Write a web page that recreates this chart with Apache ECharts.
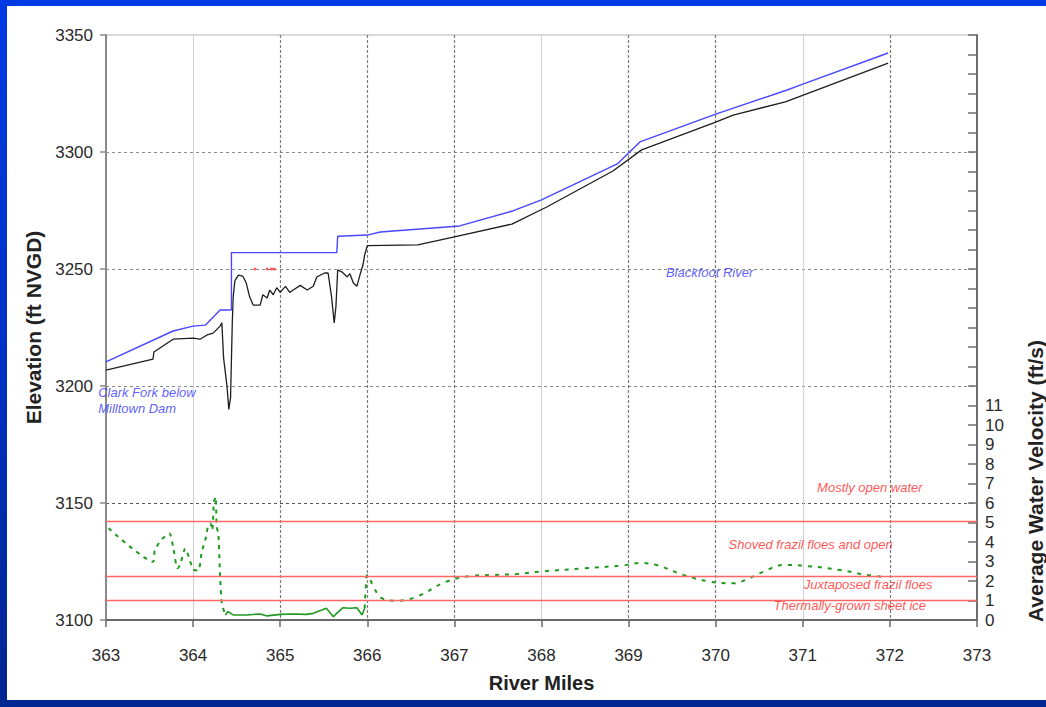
<!DOCTYPE html>
<html>
<head>
<meta charset="utf-8">
<script src="https://cdn.jsdelivr.net/npm/echarts@6/dist/echarts.min.js"></script>
<style>
  html, body { margin: 0; padding: 0; width: 1046px; height: 707px; overflow: hidden; }
  body { background: linear-gradient(180deg, #003ae4 0%, #0031c4 50%, #00268f 100%); position: relative; }
  #panel { position: absolute; left: 7px; top: 6px; width: 1039px; height: 694px; background: #ffffff; }
  #chart { position: absolute; left: 0; top: 0; width: 1046px; height: 707px; }
</style>
</head>
<body>
<div id="panel"></div>
<div id="chart"></div>
<script>
// River miles (x) and elevations / velocities (y)
const mileTicks = [363, 364, 365, 366, 367, 368, 369, 370, 371, 372, 373];
const elevTicks = [3100, 3150, 3200, 3250, 3300, 3350];

// Upper profile (blue)
const blueMiles = [363.00, 363.77, 364.00, 364.14, 364.31, 364.44, 364.44, 364.47, 365.65, 365.66, 366.00, 366.15, 367.06, 367.67, 368.00, 368.87, 369.13, 370.00, 370.82, 371.00, 371.98];
const blueElev  = [3210.3, 3223.5, 3225.6, 3226.0, 3232.5, 3232.5, 3257.0, 3257.0, 3257.0, 3264.0, 3264.5, 3265.8, 3268.4, 3274.8, 3279.5, 3294.9, 3304.3, 3316.2, 3326.5, 3329.0, 3342.3];

// Lower profile (black)
const blackMiles = [363.00, 363.54, 363.55, 363.77, 364.00, 364.08, 364.16, 364.23, 364.31, 364.33, 364.35, 364.39, 364.41, 364.43, 364.45, 364.46, 364.48, 364.52, 364.57, 364.61, 364.65, 364.69, 364.77, 364.80, 364.85, 364.88, 364.92, 364.96, 365.00, 365.06, 365.11, 365.15, 365.23, 365.31, 365.38, 365.42, 365.51, 365.55, 365.59, 365.62, 365.64, 365.66, 365.71, 365.77, 365.80, 365.84, 365.88, 365.92, 365.95, 365.97, 366.00, 366.58, 367.00, 367.66, 368.06, 368.82, 369.15, 370.00, 370.20, 370.80, 371.98];
const blackElev  = [3206.8, 3211.5, 3214.5, 3220.0, 3220.5, 3220.0, 3221.8, 3222.6, 3225.6, 3227.0, 3212.0, 3199.6, 3190.0, 3195.0, 3227.0, 3238.0, 3245.0, 3247.4, 3247.0, 3244.0, 3238.0, 3234.6, 3234.6, 3239.0, 3237.6, 3241.0, 3239.0, 3242.0, 3240.0, 3242.6, 3240.0, 3241.0, 3243.0, 3241.0, 3242.6, 3246.6, 3248.3, 3248.3, 3238.0, 3227.0, 3234.0, 3249.6, 3248.7, 3246.6, 3248.0, 3244.0, 3242.6, 3248.0, 3251.7, 3256.0, 3260.0, 3260.3, 3263.7, 3269.2, 3276.5, 3291.9, 3300.9, 3312.8, 3315.8, 3321.4, 3338.0];

// Small red marks near 3250
const redMarkMiles = [364.71, 364.85, 364.90, 364.93];
const redMarkElev  = [3250, 3250, 3250, 3250];

// Average water velocity (ft/s), right axis
const velMiles = [363.03, 363.54, 363.56, 363.64, 363.73, 363.77, 363.82, 363.85, 363.91, 363.95, 364.00, 364.06, 364.10, 364.15, 364.17, 364.20, 364.22, 364.24, 364.26, 364.27, 364.29, 364.31, 364.33, 364.37,
                  364.40, 364.46, 364.62, 364.77, 364.85, 365.00, 365.15, 365.30, 365.38, 365.53, 365.61, 365.67, 365.72, 365.80, 365.88, 365.94, 365.97,
                  365.99, 366.00, 366.07, 366.17, 366.34, 366.57, 366.91, 367.22, 367.45, 367.72, 367.98, 368.48, 368.94, 369.13, 369.32, 369.63, 369.93, 370.20, 370.39, 370.55, 370.78, 371.04, 371.43, 371.73, 371.96];
const velValues = [4.70, 2.99, 3.59, 4.14, 4.44, 3.76, 2.65, 2.82, 3.67, 3.25, 2.60, 2.53, 3.50, 4.27, 4.79, 4.96, 4.61, 6.07, 6.32, 4.79, 4.44, 2.22, 0.85, 0.26,
                   0.43, 0.26, 0.26, 0.31, 0.21, 0.29, 0.31, 0.29, 0.34, 0.60, 0.17, 0.43, 0.63, 0.60, 0.63, 0.26, 0.60,
                   2.22, 2.31, 1.71, 1.11, 0.99, 1.20, 1.97, 2.27, 2.31, 2.36, 2.48, 2.65, 2.80, 2.92, 2.82, 2.31, 1.97, 1.88, 2.15, 2.48, 2.82, 2.77, 2.56, 2.31, 2.19];

// Ice-regime boundaries on the velocity axis (ft/s)
const regimeBounds = [5.05, 2.25, 1.0];
const velLabelMax = 11;

// Text annotations
const profileNotes = [
  { text: 'Clark Fork below\nMilltown Dam', mile: 362.91, elev: 3193.8, align: 'left' },
  { text: 'Blackfoot River', mile: 369.93, elev: 3248.7, align: 'center' }
];
const regimeNotes = [
  { text: 'Mostly open water', mile: 371.77, vel: 6.82 },
  { text: 'Shoved frazil floes and open', mile: 371.09, vel: 3.85 },
  { text: 'Juxtaposed frazil floes', mile: 371.75, vel: 1.80 },
  { text: 'Thermally-grown sheet ice', mile: 371.54, vel: 0.72 }
];

const zip = (xs, ys) => xs.map((x, i) => [x, ys[i]]);
const velPts = zip(velMiles, velValues);
const lowStart = velMiles.indexOf(364.37);
const lowEnd = velMiles.indexOf(365.97);
const velRise = velPts.slice(0, lowStart + 1);
const velLow = velPts.slice(lowStart, lowEnd + 1);
const velTail = velPts.slice(lowEnd);

const FONT = "'Liberation Sans', Arial, sans-serif";
const TRANSPARENT = 'rgba(0,0,0,0)';

// Vertical grid: darker dashed lines and lighter solid lines
const darkMiles = [365, 366, 367, 369, 370, 372];
const lightMiles = [364, 368, 371];
const darkColors = mileTicks.map(m => darkMiles.includes(m) ? '#7a7a7a' : TRANSPARENT);
const lightColors = mileTicks.map(m => lightMiles.includes(m) ? '#cfcfcf' : TRANSPARENT);
const elevGridColors = elevTicks.map(v => v === 3150 ? '#555' : (v === 3100 || v === 3350) ? TRANSPARENT : '#8a8a8a');

const chart = echarts.init(document.getElementById('chart'), null, { renderer: 'svg' });

const greenStyle = { color: '#1f9a1f', width: 2 };

chart.setOption({
  animation: false,
  backgroundColor: TRANSPARENT,
  grid: { left: 106, right: 69, top: 35, bottom: 87, show: true, borderColor: '#b4b4b4', borderWidth: 1, backgroundColor: TRANSPARENT },
  xAxis: [
    {
      type: 'value', min: mileTicks[0], max: mileTicks[mileTicks.length - 1], interval: 1,
      name: 'River Miles', nameLocation: 'middle', nameGap: 53,
      nameTextStyle: { fontFamily: FONT, fontSize: 20, fontWeight: 'bold', color: '#222' },
      axisLine: { show: true, onZero: false, lineStyle: { color: '#6a6a6a', width: 2 } },
      axisTick: { show: true, length: 7, lineStyle: { color: '#6a6a6a', width: 1.5 } },
      axisLabel: { margin: 27, fontFamily: FONT, fontSize: 17, color: '#2a2a2a', formatter: v => String(v) },
      splitLine: { show: true, lineStyle: { color: darkColors, type: [3, 2], width: 1.2 } }
    },
    {
      type: 'value', min: mileTicks[0], max: mileTicks[mileTicks.length - 1], interval: 1,
      position: 'bottom',
      axisLine: { show: false }, axisTick: { show: false }, axisLabel: { show: false },
      splitLine: { show: true, lineStyle: { color: lightColors, type: 'solid', width: 1 } }
    }
  ],
  yAxis: [
    {
      type: 'value', min: elevTicks[0], max: elevTicks[elevTicks.length - 1], interval: 50,
      name: 'Elevation (ft NVGD)', nameLocation: 'middle', nameGap: 61,
      nameTextStyle: { fontFamily: FONT, fontSize: 21, fontWeight: 'bold', color: '#222' },
      axisLine: { show: true, lineStyle: { color: '#8a8a8a', width: 2 } },
      axisTick: { show: true, length: 6, lineStyle: { color: '#8a8a8a', width: 1.5 } },
      axisLabel: { margin: 13, fontFamily: FONT, fontSize: 17, color: '#2a2a2a', formatter: v => String(v) },
      splitLine: { show: true, lineStyle: { color: elevGridColors, type: [3, 3], width: 1 } }
    },
    {
      type: 'value', min: 0, max: 30, interval: 1, position: 'right',
      axisLine: { show: true, lineStyle: { color: '#6e6e6e', width: 2 } },
      axisTick: { show: true, inside: true, length: 9, lineStyle: { color: '#6e6e6e', width: 1.5 } },
      axisLabel: {
        margin: 8, fontFamily: FONT, fontSize: 17, color: '#2a2a2a',
        formatter: v => (v <= velLabelMax ? String(v) : '')
      },
      splitLine: { show: false }
    }
  ],
  series: [
    {
      name: 'Velocity (rising)', type: 'line', xAxisIndex: 0, yAxisIndex: 1,
      data: velRise, showSymbol: false, smooth: 0.2,
      lineStyle: Object.assign({ type: [4, 5] }, greenStyle), z: 3
    },
    {
      name: 'Velocity (low)', type: 'line', xAxisIndex: 0, yAxisIndex: 1,
      data: velLow, showSymbol: false,
      lineStyle: { color: '#1f9a1f', width: 1.6, type: 'solid' }, z: 3
    },
    {
      name: 'Velocity (tail)', type: 'line', xAxisIndex: 0, yAxisIndex: 1,
      data: velTail, showSymbol: false, smooth: 0.4,
      lineStyle: Object.assign({ type: [4, 6] }, greenStyle), z: 3,
      markLine: {
        silent: true, symbol: 'none', label: { show: false },
        lineStyle: { color: '#ff6666', width: 1.3, type: 'solid' },
        data: regimeBounds.map(v => ({ yAxis: v }))
      }
    },
    {
      name: 'Lower profile', type: 'line', xAxisIndex: 0, yAxisIndex: 0,
      data: zip(blackMiles, blackElev), showSymbol: false,
      lineStyle: { color: '#1e1e1e', width: 1.3 }, z: 4
    },
    {
      name: 'Upper profile', type: 'line', xAxisIndex: 0, yAxisIndex: 0,
      data: zip(blueMiles, blueElev), showSymbol: false,
      lineStyle: { color: '#4848ff', width: 1.4 }, z: 5
    },
    {
      name: 'Marks', type: 'scatter', xAxisIndex: 0, yAxisIndex: 0,
      data: zip(redMarkMiles, redMarkElev), symbol: 'circle', symbolSize: 3,
      itemStyle: { color: '#ff3030' }, z: 5
    },
    {
      name: 'Profile notes', type: 'scatter', xAxisIndex: 0, yAxisIndex: 0, clip: false,
      symbolSize: 0, silent: true, z: 6,
      data: profileNotes.map(n => ({
        value: [n.mile, n.elev], name: n.text,
        label: { position: n.align === 'left' ? 'right' : 'inside', distance: 0, align: n.align }
      })),
      label: {
        show: true, formatter: p => p.name, fontFamily: FONT, fontSize: 13, fontStyle: 'italic',
        color: '#3535ff', lineHeight: 16
      }
    },
    {
      name: 'Regime notes', type: 'scatter', xAxisIndex: 0, yAxisIndex: 1, clip: false,
      symbolSize: 0, silent: true, z: 6,
      data: regimeNotes.map(n => ({ value: [n.mile, n.vel], name: n.text })),
      label: {
        show: true, position: 'inside', formatter: p => p.name, fontFamily: FONT, fontSize: 13,
        fontStyle: 'italic', color: '#ff2a2a'
      }
    }
  ],
  graphic: [
    {
      type: 'text', x: 1035, y: 481, rotation: Math.PI / 2,
      style: {
        text: 'Average Water Velocity (ft/s)', fontFamily: FONT, fontSize: 21, fontWeight: 'bold',
        fill: '#222', align: 'center', verticalAlign: 'middle'
      }
    }
  ]
});
</script>
</body>
</html>
